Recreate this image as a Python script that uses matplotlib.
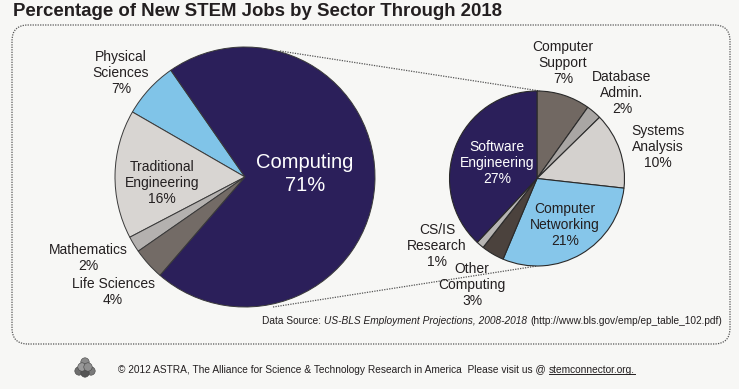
import matplotlib
matplotlib.use("Agg")
import matplotlib.pyplot as plt
from matplotlib.patches import FancyBboxPatch, Circle

plt.rcParams['font.family'] = ['Liberation Sans', 'DejaVu Sans']

# ---- data ----
main_labels = ["Physical\nSciences\n7%", "Traditional\nEngineering\n16%", "Mathematics\n2%",
               "Life Sciences\n4%", "Computing\n71%"]
main_values = [7, 16, 2, 4, 71]
main_colors = ["#80c4e8", "#d8d5d2", "#b4b1af", "#736b66", "#2b1f5a"]

sub_labels = ["Computer\nSupport\n7%", "Database\nAdmin.\n2%", "Systems\nAnalysis\n10%",
              "Computer\nNetworking\n21%", "Other\nComputing\n3%", "CS/IS\nResearch\n1%",
              "Software\nEngineering\n27%"]
sub_values = [7, 2, 10, 21, 3, 1, 27]
sub_colors = ["#716862", "#a9a6a4", "#d4d1ce", "#86c6ea", "#4b423d", "#b7b5b3", "#2b1f5a"]

W, H = 739, 389
BG = "#f7f7f5"
TXT = "#231f20"

fig = plt.figure(figsize=(W / 100, H / 100), dpi=100, facecolor=BG)
ax = fig.add_axes([0, 0, 1, 1])
ax.set_facecolor(BG)

def Y(y):
    return H - y

# frame
frame = FancyBboxPatch((12, Y(344)), 718, 319, boxstyle="round,pad=0,rounding_size=16",
                       fill=False, edgecolor="#555555", linestyle=(0, (1, 1)), lw=0.9)
ax.add_patch(frame)

# title
ax.text(13, Y(11), "Percentage of New STEM Jobs by Sector Through 2018", fontsize=13.4,
        fontweight="bold", color=TXT, ha="left", va="center")

# connectors
ax.plot([280, 540], [Y(51), Y(91)], color="#555555", lw=0.9, ls=(0, (1, 1)), zorder=1)
ax.plot([273, 537], [Y(307), Y(266)], color="#555555", lw=0.9, ls=(0, (1, 1)), zorder=1)

# main pie
ax.pie(main_values, colors=main_colors, startangle=124.8, counterclock=True,
       center=(245, Y(177)), radius=130, frame=True,
       wedgeprops=dict(edgecolor="#3a3a3a", linewidth=0.7))
# sub pie
ax.pie(sub_values, colors=sub_colors, startangle=90, counterclock=False,
       center=(537, Y(178.5)), radius=87.5, frame=True,
       wedgeprops=dict(edgecolor="#2a2a2a", linewidth=0.8))
ax.set_xlim(0, W)
ax.set_ylim(0, H)
ax.set_aspect("equal")
ax.axis("off")

main_pos = [(121, 73), (162, 183), (88, 258), (113, 292), (305, 174)]
for lab, (x, y), c in zip(main_labels, main_pos, [TXT, TXT, TXT, TXT, "white"]):
    big = lab.startswith("Computing")
    ax.text(x, Y(y), lab, ha="center", va="center", fontsize=14.5 if big else 10, color=c,
            linespacing=1.22)

sub_pos = [(563, 63), (622, 93), (658, 147), (565, 225), (472, 285), (437, 246), (497, 163)]
for lab, (x, y) in zip(sub_labels, sub_pos):
    c = "white" if lab.startswith("Software") else TXT
    ax.text(x, Y(y), lab, ha="center", va="center", fontsize=10, color=c, linespacing=1.18)

# data source (right aligned pieces)
fig.canvas.draw()
r = fig.canvas.get_renderer()
inv = ax.transData.inverted()
fs_ds = 7.3
t3 = ax.text(722, Y(321), "(http://www.bls.gov/emp/ep_table_102.pdf)", ha="right", va="center",
             fontsize=fs_ds, color=TXT)
bb = t3.get_window_extent(r)
x_left = inv.transform((bb.x0, 0))[0]
t2 = ax.text(x_left - 3, Y(321), "US-BLS Employment Projections, 2008-2018", ha="right",
             va="center", fontsize=fs_ds, color=TXT, style="italic")
bb = t2.get_window_extent(r)
x_left = inv.transform((bb.x0, 0))[0]
ax.text(x_left - 3, Y(321), "Data Source:", ha="right", va="center", fontsize=fs_ds, color=TXT)

# footer
fs_ft = 7.3
ft = ax.text(118, Y(370), "\u00a9 2012 ASTRA, The Alliance for Science & Technology Research in America  Please visit us @ ",
             ha="left", va="center", fontsize=fs_ft, color=TXT)
bb = ft.get_window_extent(r)
xr = inv.transform((bb.x1, 0))[0]
lk = ax.text(xr, Y(370), "stemconnector.org.", ha="left", va="center", fontsize=fs_ft, color=TXT)
bb = lk.get_window_extent(r)
x0, y0 = inv.transform((bb.x0, bb.y0))
x1, _ = inv.transform((bb.x1, bb.y0))
ax.plot([x0, x1], [y0 + 1.5, y0 + 1.5], color=TXT, lw=0.7)

# logo cluster
for (dx, dy, col) in [(0, -7, "#8a8a8a"), (-6, 2, "#6e6e6e"), (6, 2, "#7a7a7a"), (0, 4, "#555555"),
                      (-3, -2, "#9a9a9a"), (3, -2, "#8f8f8f")]:
    ax.add_patch(Circle((85 + dx, Y(369) - dy), 4.2, facecolor=col, edgecolor="#444444", lw=0.4))

fig.savefig("out.png", dpi=100, facecolor=BG)
